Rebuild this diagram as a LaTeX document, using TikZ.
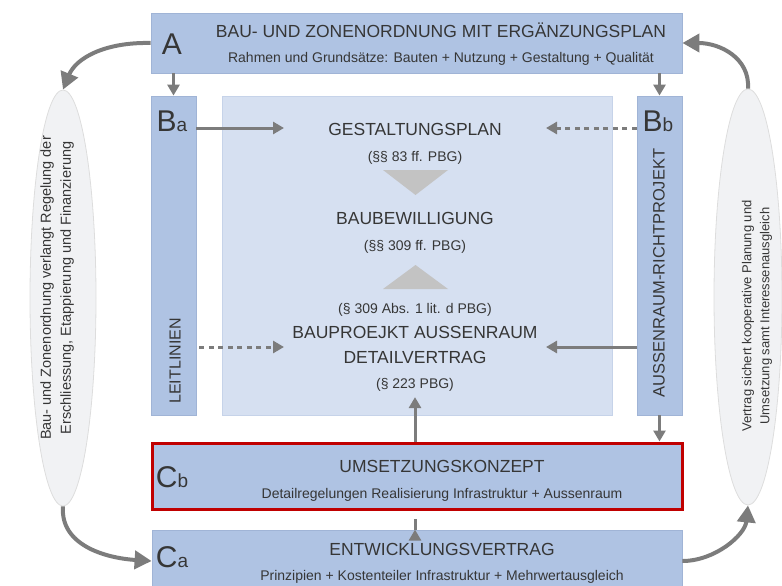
\documentclass[tikz,border=0pt]{standalone}
\usepackage{fontspec}
\setmainfont{Liberation Sans}
\usetikzlibrary{arrows.meta,calc,shapes.geometric}

\definecolor{boxblue}{HTML}{AFC3E3}
\definecolor{boxedge}{HTML}{A0B4D6}
\definecolor{paneblue}{HTML}{D6E0F1}
\definecolor{paneedge}{HTML}{C6D3E9}
\definecolor{arrowgray}{HTML}{7C7C7C}
\definecolor{trigray}{HTML}{C3C3C3}
\definecolor{ink}{HTML}{363636}
\definecolor{ovalfill}{HTML}{F1F2F4}
\definecolor{ovaledge}{HTML}{DDDDDD}
\definecolor{alertred}{HTML}{C00000}

\newcommand{\fsz}[2]{\fontsize{#1pt}{#2pt}\selectfont}
\newcommand{\tag}[2]{{\fsz{30}{30}#1}{\fsz{19}{19}#2}}

\tikzset{
  bluebox/.style={rectangle, draw=boxedge, fill=boxblue, line width=0.8pt, inner sep=0pt},
  pane/.style={rectangle, draw=paneedge, fill=paneblue, line width=0.8pt, inner sep=0pt},
  oval/.style={ellipse, draw=ovaledge, fill=ovalfill, line width=0.8pt, inner sep=0pt},
  txt/.style={text=ink, inner sep=0pt, align=center, anchor=base},
  title/.style={txt, font=\fsz{17.5}{20}},
  subtitle/.style={txt, font=\fsz{14}{17}},
  letter/.style={txt},
  arr/.style={draw=arrowgray, line width=3pt, -{Triangle[length=11pt,width=12pt]}},
  dotarr/.style={arr, dash pattern=on 5pt off 4.5pt},
  bigarr/.style={draw=arrowgray, line width=4pt, -{Triangle[length=17pt,width=18pt]}},
}

\begin{document}
\begin{tikzpicture}[x=1pt,y=-1pt]
\useasboundingbox (0,0) rectangle (782,586);

% side ovals
\node[oval, minimum width=66pt, minimum height=416pt] (Lov) at (63,298) {};
\node[oval, minimum width=68pt, minimum height=416pt] (Rov) at (748,297) {};
\node[txt, anchor=center, rotate=90, font=\fsz{14.5}{20}] (Ltxt) at (57,288)
  {Bau- und Zonenordnung verlangt Regelung der\\Erschliessung, Etappierung und Finanzierung};
\node[txt, anchor=center, rotate=90, font=\fsz{13}{18}] (Rtxt) at (757,316)
  {Vertrag sichert kooperative Planung und\\Umsetzung samt Interessenausgleich};

% main boxes
\node[bluebox, minimum width=531pt, minimum height=60pt] (A) at (416.5,43) {};
\node[bluebox, minimum width=45pt, minimum height=319pt] (Ba) at (173.5,255.5) {};
\node[pane, minimum width=390pt, minimum height=319pt] (P) at (417,255.5) {};
\node[bluebox, minimum width=45pt, minimum height=319pt] (Bb) at (659.5,255.5) {};
\node[bluebox, draw=alertred, line width=3pt, minimum width=530pt, minimum height=66pt] (Cb) at (417,476) {};
\node[bluebox, minimum width=530pt, minimum height=62pt] (Ca) at (417,561) {};

% box A
\node[letter] (Al) at (172,55) {\fsz{30}{30}A};
\node[title] (At) at (441,38) {BAU- UND ZONENORDNUNG MIT ERGÄNZUNGSPLAN};
\node[subtitle] (As) at (441,63) {Rahmen und Grundsätze: Bauten + Nutzung + Gestaltung + Qualität};

% columns B
\node[letter] (Bal) at (172,131) {\tag{B}{a}};
\node[txt, anchor=center, rotate=90, font=\fsz{16}{18}] (Lei) at (175,361) {LEITLINIEN};
\node[letter] (Bbl) at (658,131) {\tag{B}{b}};
\node[txt, anchor=center, rotate=90, font=\fsz{16.5}{18}] (Aus) at (659,273) {AUSSENRAUM-RICHTPROJEKT};

% central pane
\node[title] (G) at (415,135) {GESTALTUNGSPLAN};
\node[subtitle] (G1) at (415,161) {(§§ 83 ff. PBG)};
\node[title] (BB) at (415,224) {BAUBEWILLIGUNG};
\node[subtitle] (BB1) at (415,250) {(§§ 309 ff. PBG)};
\node[subtitle] (BP0) at (415,313) {(§ 309 Abs. 1 lit. d PBG)};
\node[title] (BP) at (415,338) {BAUPROEJKT AUSSENRAUM};
\node[title] (DV) at (415,363) {DETAILVERTRAG};
\node[subtitle] (DV1) at (415,388) {(§ 223 PBG)};

\fill[trigray] (383,170) -- (448,170) -- (415.5,195) -- cycle;
\fill[trigray] (383,289) -- (448,289) -- (415.5,265) -- cycle;

% boxes C
\node[letter] (Cbl) at (172,487) {\tag{C}{b}};
\node[title] (Cbt) at (442,472) {UMSETZUNGSKONZEPT};
\node[subtitle] (Cbs) at (442,498) {Detailregelungen Realisierung Infrastruktur + Aussenraum};
\node[letter] (Cal) at (172,567) {\tag{C}{a}};
\node[title] (Cat) at (442,555) {ENTWICKLUNGSVERTRAG};
\node[subtitle] (Cas) at (442,580) {Prinzipien + Kostenteiler Infrastruktur + Mehrwertausgleich};

% connectors
\draw[arr] (A.south -| Ba.north) -- (Ba.north);
\draw[arr] (A.south -| Bb.north) -- (Bb.north);
\draw[arr] (Bb.south) -- (Bb.south |- Cb.north);
\draw[arr] (Ca.north -| DV1.south) -- (Ca.north -| DV1.south |- Cb.south);
\draw[arr] (Cb.north -| DV1.south) -- ([yshift=-6pt]DV1.south);

\coordinate (gL) at (284,128);
\coordinate (gR) at (546,128);
\coordinate (dL) at (284,347);
\coordinate (dR) at (546,347);
\draw[arr] (Ba.east |- gL) -- (gL);
\draw[dotarr] (Bb.west |- gR) -- (gR);
\draw[dotarr] ([xshift=3pt]Ba.east |- dL) -- (dL);
\draw[arr] (Bb.west |- dR) -- (dR);

% curved connectors around the ovals
\draw[bigarr] (A.west) .. controls (105,42) and (76,58) .. (Lov.north);
\draw[bigarr] (Lov.south) .. controls (60,545) and (105,558) .. (Ca.west);
\draw[bigarr] (Ca.east) .. controls (715,561) and (745,535) .. (Rov.south);
\draw[bigarr] (Rov.north) .. controls (750,58) and (720,43) .. (A.east);
\end{tikzpicture}
\end{document}
